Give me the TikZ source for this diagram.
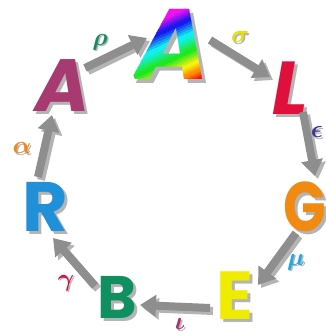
\documentclass[tikz,border=0pt]{standalone}
\usepackage{fontspec}
\usepackage{amsmath}
\newfontfamily\letterfont{Poppins}
\usetikzlibrary{arrows.meta,calc}
\definecolor{rbred}{HTML}{FF1010}
\definecolor{rborange}{HTML}{FF9000}
\definecolor{rbyellow}{HTML}{F4F010}
\definecolor{rbgreen}{HTML}{20E820}
\definecolor{rbcyan}{HTML}{10F0F0}
\definecolor{rbblue}{HTML}{1818F0}
\definecolor{rbmagenta}{HTML}{F010F0}
\definecolor{cA}{HTML}{A83A72}
\definecolor{cL}{HTML}{E0103C}
\definecolor{cR}{HTML}{2090D8}
\definecolor{cG}{HTML}{F08A10}
\definecolor{cE}{HTML}{F0EC00}
\definecolor{cB}{HTML}{109060}
\definecolor{arrowgray}{HTML}{8E8E8E}
\definecolor{shadowgray}{HTML}{B4B4B4}
\definecolor{gRho}{HTML}{109058}
\definecolor{gSigma}{HTML}{E8E000}
\definecolor{gEps}{HTML}{383890}
\definecolor{gMu}{HTML}{20A8E8}
\definecolor{gIota}{HTML}{A83070}
\definecolor{gGamma}{HTML}{D01040}
\definecolor{gAlpha}{HTML}{F08818}
\begin{document}
\begin{tikzpicture}[x=1pt,y=-1pt,
  letter/.style={inner sep=0pt, text height={\dimexpr #1pt*7/10\relax}, text depth=0pt, font=\letterfont\bfseries\fontsize{#1}{#1}\selectfont},
  iletter/.style={inner sep=0pt, text height={\dimexpr #1pt*7/10\relax}, text depth=0pt, font=\letterfont\bfseries\itshape\fontsize{#1}{#1}\selectfont},
  shadowtext/.style={text=shadowgray},
  greek/.style={inner sep=0pt, font=\fontsize{24}{24}\selectfont\boldmath},
  arr/.style={draw=arrowgray, line width=8pt, -{Triangle[width=21pt,length=16pt]}},
  arrshadow/.style={draw=shadowgray, line width=8pt, -{Triangle[width=21pt,length=16pt]}}]
\useasboundingbox (0,0) rectangle (326,335);
% shadows of letters
\node[iletter=100, shadowtext] (aTs) at (176,48) {A};
\node[iletter=74, shadowtext] (aLs) at (66,89) {A};
\node[iletter=75, shadowtext] (Ls) at (293,91) {L};
\node[letter=70, shadowtext] (Rs) at (48,210) {R};
\node[letter=70, shadowtext, xscale=0.8, transform shape] (Gs) at (308,210) {G};
\node[letter=68, shadowtext] (Es) at (238,299) {E};
\node[letter=60, shadowtext] (Bs) at (120,300) {B};
% rainbow A (text clipped in diagonal bands)
\node[iletter=100, text opacity=0] (aT) at (172,44) {A};
\foreach \ta/\tb/\ca/\cb [count=\j] in {-40/4/rbmagenta/rbmagenta, 4/16/rbmagenta/rbblue, 16/30/rbblue/rbcyan, 30/45/rbcyan/rbgreen, 45/58/rbgreen/rbyellow, 58/66/rbyellow/rborange, 66/74/rborange/rbred, 74/130/rbred/rbred}{
  \foreach \k in {0,...,5}{
    \pgfmathtruncatemacro\p{100*\k/5}
    \pgfmathsetmacro\s{\ta+(\tb-\ta)*\k/6}
    \pgfmathsetmacro\e{\ta+(\tb-\ta)*(\k+1)/6+0.4}
    \colorlet{bandc}{\cb!\p!\ca}
    \begin{scope}
      \clip ($(aT)+({3+\s*0.4226-60},{-36+\s*0.9063+28})$) -- ($(aT)+({3+\s*0.4226+60},{-36+\s*0.9063-28})$) -- ($(aT)+({3+\e*0.4226+60},{-36+\e*0.9063-28})$) -- ($(aT)+({3+\e*0.4226-60},{-36+\e*0.9063+28})$) -- cycle;
      \node[iletter=100, text=bandc] (aTband\j-\k) at (aT) {A};
    \end{scope}
  }
}
% letters
\node[iletter=74, text=cA] (aL) at (63,86) {A};
\node[iletter=75, text=cL] (L) at (290,88) {L};
\node[letter=70, text=cR] (R) at (45,207) {R};
\node[letter=70, text=cG, xscale=0.8, transform shape] (G) at (305,207) {G};
\node[letter=68, text=cE] (E) at (235,296) {E};
\node[letter=60, text=cB] (B) at (117,297) {B};
% arrow shadows
\draw[arrshadow] ($(aL)+(25,-15)$) -- ($(aT)+(-22,-3)$);
\draw[arrshadow] ($(aT)+(41,-1)$) -- ($(L)+(-17,-8)$);
\draw[arrshadow] ($(L)+(16,27)$) -- ($(G)+(13,-28)$);
\draw[arrshadow] ($(G)+(-6,29)$) -- ($(E)+(26,-8)$);
\draw[arrshadow] ($(E)+(-22,15)$) -- ($(B)+(26,11)$);
\draw[arrshadow] ($(B)+(-19,-8)$) -- ($(R)+(11,34)$);
\draw[arrshadow] ($(R)+(-4,-27)$) -- ($(aL)+(-8,32)$);
% arrows
\draw[arr] ($(aL)+(22,-18)$) -- ($(aT)+(-25,-6)$);
\draw[arr] ($(aT)+(38,-4)$) -- ($(L)+(-20,-11)$);
\draw[arr] ($(L)+(13,24)$) -- ($(G)+(10,-31)$);
\draw[arr] ($(G)+(-9,26)$) -- ($(E)+(23,-11)$);
\draw[arr] ($(E)+(-25,12)$) -- ($(B)+(23,8)$);
\draw[arr] ($(B)+(-22,-11)$) -- ($(R)+(8,31)$);
\draw[arr] ($(R)+(-7,-30)$) -- ($(aL)+(-11,29)$);
% greek labels
\node[greek, text=shadowgray] (rhos) at (101.5,43.5) {$\rho$};
\node[greek, text=gRho] (rho) at (100,42) {$\rho$};
\node[greek, text=shadowgray] (sigmas) at (241.5,38.5) {$\sigma$};
\node[greek, text=gSigma] (sigma) at (240,37) {$\sigma$};
\node[greek, text=shadowgray] (epss) at (318.5,133.5) {$\epsilon$};
\node[greek, text=gEps] (eps) at (317,132) {$\epsilon$};
\node[greek, text=shadowgray] (mus) at (297.5,263.5) {$\mu$};
\node[greek, text=gMu] (mu) at (296,262) {$\mu$};
\node[greek, text=shadowgray] (iotas) at (181.5,325.5) {$\iota$};
\node[greek, text=gIota] (iota) at (180,324) {$\iota$};
\node[greek, text=shadowgray] (gammas) at (67.5,284.5) {$\gamma$};
\node[greek, text=gGamma] (gamma) at (66,283) {$\gamma$};
\node[greek, text=shadowgray] (alphas) at (23.5,149.5) {$\alpha$};
\node[greek, text=gAlpha] (alpha) at (22,148) {$\alpha$};
\end{tikzpicture}
\end{document}
